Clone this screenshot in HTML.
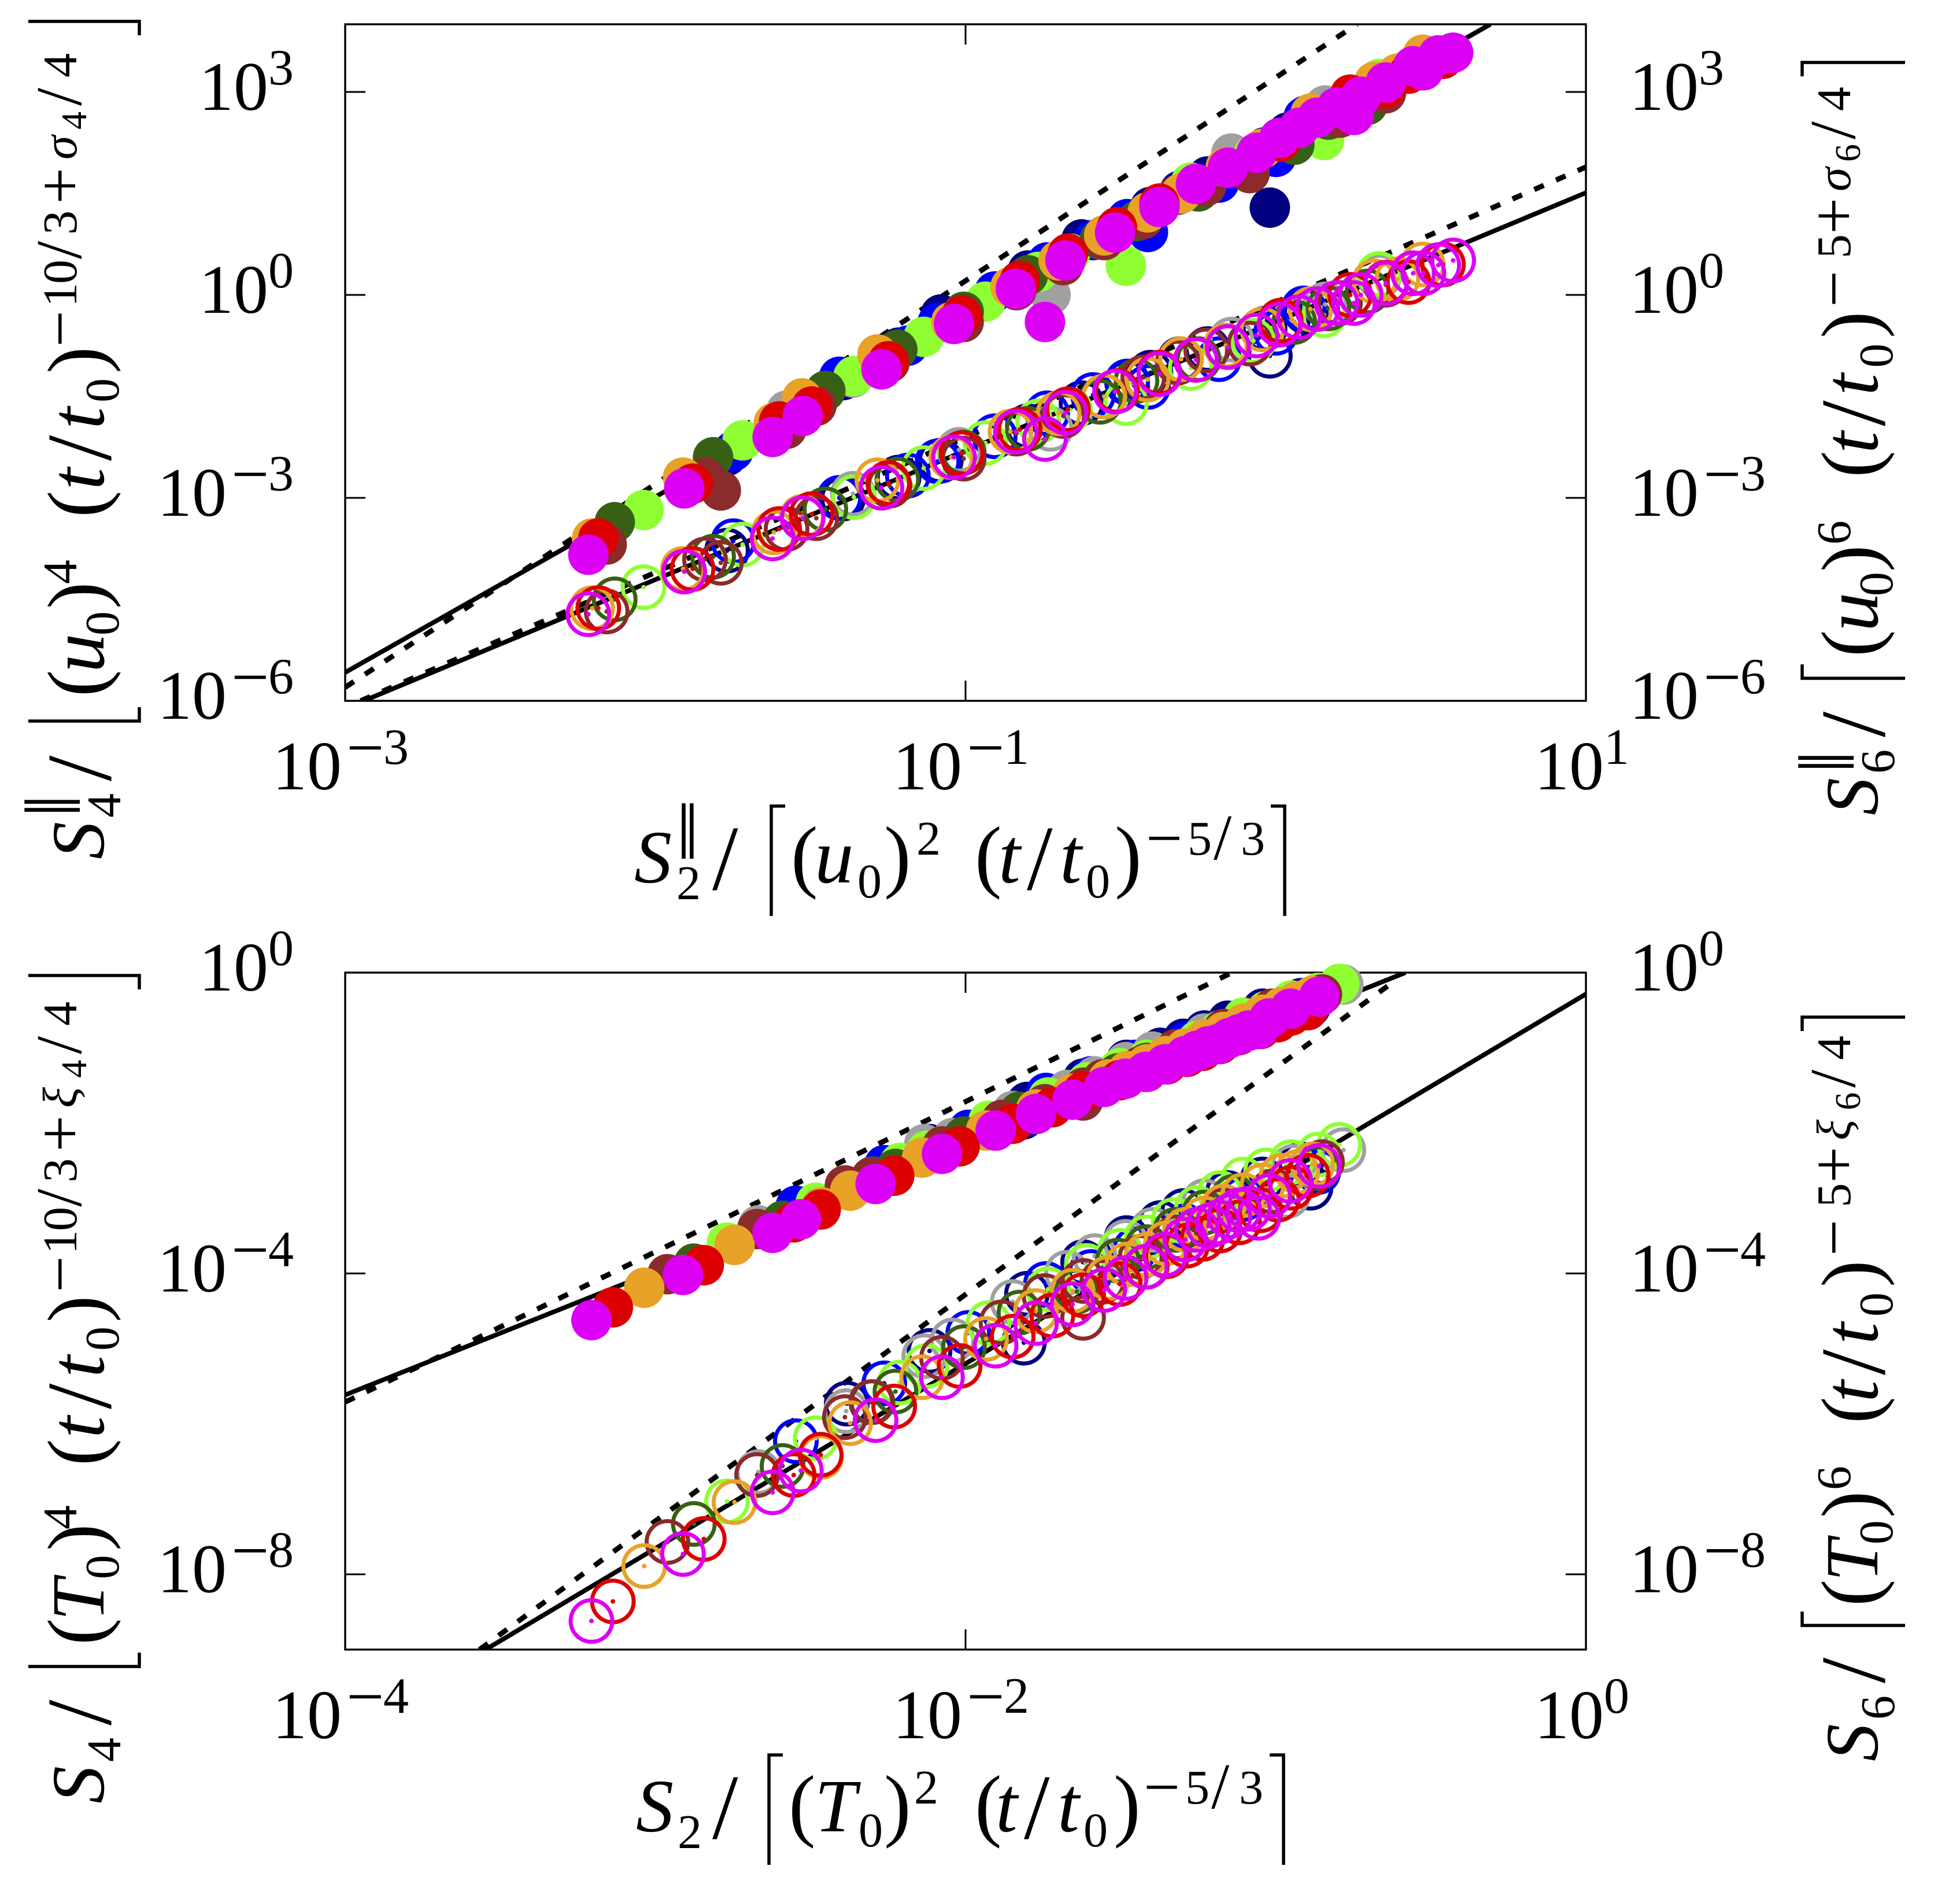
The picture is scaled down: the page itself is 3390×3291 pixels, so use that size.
<!DOCTYPE html>
<html lang="en">
<head>
<meta charset="utf-8">
<title>Structure function scaling plots</title>
<style>
html,body{margin:0;padding:0;background:#fff;}
svg{display:block;}
text{font-family:"Liberation Serif","DejaVu Serif",serif;fill:#000;}
.it{font-style:italic;}
.p{font-size:140px;}
.t{font-size:136px;font-style:italic;}
.v{font-size:135px;font-style:italic;}
.sl{font-size:160px;}
.ss{font-size:112px;}
.pp{font-size:138px;}
</style>
</head>
<body>
<svg id="chart" xmlns="http://www.w3.org/2000/svg" width="3390" height="3291" viewBox="0 0 3390 3291">
<rect x="0" y="0" width="3390" height="3291" fill="#fff"/>
<defs>
<clipPath id="clipTop"><rect x="597" y="42" width="2146" height="1170"/></clipPath>
<clipPath id="clipBottom"><rect x="597" y="1682" width="2146" height="1171"/></clipPath>
</defs>
<g id="layerTop"></g>
<g id="layerBottom"></g>

<g fill="none" stroke="#000" stroke-width="5.5">
<path d="M1358,1394H1334V1584"/>
<path d="M2198,1394H2222V1584"/>
<path d="M1354,3035H1330V3225"/>
<path d="M2196,3035H2220V3225"/>
<path d="M49,1247H241V1223"/>
<path d="M49,37H241V61"/>
<path d="M49,2882H241V2858"/>
<path d="M49,1687H241V1711"/>
<path d="M3295,1173H3117V1149"/>
<path d="M3295,108H3117V132"/>
<path d="M3295,2811H3117V2787"/>
<path d="M3295,1759H3117V1783"/>
</g>

<text font-size="118">
<tspan class="it" font-size="130" x="1097" y="1526">S</tspan><tspan class="pp" x="1170" y="1485">‖</tspan><tspan font-size="84" x="1170" y="1555">2</tspan><tspan class="sl" x="1232" y="1538">/</tspan>
<tspan class="p" x="1368" y="1526">(</tspan><tspan class="v" x="1409" y="1526">u</tspan><tspan font-size="84" x="1483" y="1552">0</tspan><tspan class="p" x="1529" y="1526">)</tspan><tspan font-size="84" x="1585" y="1478">2</tspan>
<tspan class="p" x="1686" y="1526">(</tspan><tspan class="t" x="1727" y="1526">t</tspan><tspan class="sl" x="1776" y="1538">/</tspan><tspan class="t" x="1833" y="1526">t</tspan><tspan font-size="84" x="1878" y="1552">0</tspan><tspan class="p" x="1928" y="1526">)</tspan>
<tspan font-size="112" x="1982" y="1487">−</tspan><tspan font-size="84" x="2054" y="1478">5</tspan><tspan class="ss" x="2099" y="1486">/</tspan><tspan font-size="84" x="2146" y="1478">3</tspan>
</text>

<text font-size="118">
<tspan class="it" font-size="130" x="1100" y="3167">S</tspan><tspan font-size="84" x="1172" y="3196">2</tspan><tspan class="sl" x="1232" y="3179">/</tspan>
<tspan class="p" x="1364" y="3167">(</tspan><tspan class="it" font-size="130" x="1409" y="3167">T</tspan><tspan font-size="84" x="1485" y="3193">0</tspan><tspan class="p" x="1529" y="3167">)</tspan><tspan font-size="84" x="1581" y="3119">2</tspan>
<tspan class="p" x="1686" y="3167">(</tspan><tspan class="t" x="1722" y="3167">t</tspan><tspan class="sl" x="1771" y="3179">/</tspan><tspan class="t" x="1829" y="3167">t</tspan><tspan font-size="84" x="1874" y="3193">0</tspan><tspan class="p" x="1926" y="3167">)</tspan>
<tspan font-size="112" x="1978" y="3128">−</tspan><tspan font-size="84" x="2050" y="3119">5</tspan><tspan class="ss" x="2095" y="3127">/</tspan><tspan font-size="84" x="2143" y="3119">3</tspan>
</text>

<text font-size="118" transform="translate(179,1486) rotate(-90)">
<tspan class="it" font-size="130" x="0" y="0">S</tspan><tspan class="pp" x="73" y="-41">‖</tspan><tspan font-size="84" x="72" y="29">4</tspan><tspan class="sl" x="135" y="12">/</tspan>
<tspan class="p" x="281" y="0">(</tspan><tspan class="v" x="323" y="0">u</tspan><tspan font-size="84" x="387" y="26">0</tspan><tspan class="p" x="433" y="0">)</tspan><tspan font-size="84" x="476" y="-47">4</tspan>
<tspan class="p" x="591" y="0">(</tspan><tspan class="t" x="639" y="0">t</tspan><tspan class="sl" x="689" y="12">/</tspan><tspan class="t" x="744" y="0">t</tspan><tspan font-size="84" x="790" y="26">0</tspan><tspan class="p" x="840" y="0">)</tspan>
<tspan font-size="112" x="886" y="-38">−</tspan><tspan font-size="84" x="955" y="-47">1</tspan><tspan font-size="84" x="995" y="-47">0</tspan><tspan class="ss" x="1038" y="-39">/</tspan><tspan font-size="84" x="1080" y="-47">3</tspan><tspan font-size="112" x="1133" y="-38">+</tspan><tspan class="it" font-size="84" x="1210" y="-47">σ</tspan><tspan font-size="62" x="1262" y="-30">4</tspan><tspan class="ss" x="1303" y="-39">/</tspan><tspan font-size="84" x="1352" y="-47">4</tspan>
</text>

<text font-size="118" transform="translate(3247,1410) rotate(-90)">
<tspan class="it" font-size="130" x="0" y="0">S</tspan><tspan class="pp" x="73" y="-41">‖</tspan><tspan font-size="84" x="72" y="29">6</tspan><tspan class="sl" x="135" y="12">/</tspan>
<tspan class="p" x="274" y="0">(</tspan><tspan class="v" x="318" y="0">u</tspan><tspan font-size="84" x="379" y="26">0</tspan><tspan class="p" x="421" y="0">)</tspan><tspan font-size="84" x="468" y="-47">6</tspan>
<tspan class="p" x="584" y="0">(</tspan><tspan class="t" x="626" y="0">t</tspan><tspan class="sl" x="673" y="12">/</tspan><tspan class="t" x="726" y="0">t</tspan><tspan font-size="84" x="774" y="26">0</tspan><tspan class="p" x="825" y="0">)</tspan>
<tspan font-size="112" x="879" y="-38">−</tspan><tspan font-size="84" x="963" y="-47">5</tspan><tspan font-size="112" x="1005" y="-38">+</tspan><tspan class="it" font-size="84" x="1079" y="-47">σ</tspan><tspan font-size="62" x="1130" y="-30">6</tspan><tspan class="ss" x="1169" y="-39">/</tspan><tspan font-size="84" x="1218" y="-47">4</tspan>
</text>

<text font-size="118" transform="translate(179,3119) rotate(-90)">
<tspan class="it" font-size="130" x="0" y="0">S</tspan><tspan font-size="84" x="72" y="29">4</tspan><tspan class="sl" x="135" y="12">/</tspan>
<tspan class="p" x="274" y="0">(</tspan><tspan class="it" font-size="130" x="316" y="0">T</tspan><tspan font-size="84" x="388" y="26">0</tspan><tspan class="p" x="437" y="0">)</tspan><tspan font-size="84" x="474" y="-47">4</tspan>
<tspan class="p" x="584" y="0">(</tspan><tspan class="t" x="632" y="0">t</tspan><tspan class="sl" x="682" y="12">/</tspan><tspan class="t" x="737" y="0">t</tspan><tspan font-size="84" x="783" y="26">0</tspan><tspan class="p" x="832" y="0">)</tspan>
<tspan font-size="112" x="884" y="-38">−</tspan><tspan font-size="84" x="950" y="-47">1</tspan><tspan font-size="84" x="990" y="-47">0</tspan><tspan class="ss" x="1032" y="-39">/</tspan><tspan font-size="84" x="1074" y="-47">3</tspan><tspan font-size="112" x="1127" y="-38">+</tspan><tspan class="it" font-size="84" x="1203" y="-47">ξ</tspan><tspan font-size="62" x="1255" y="-30">4</tspan><tspan class="ss" x="1296" y="-39">/</tspan><tspan font-size="84" x="1345" y="-47">4</tspan>
</text>

<text font-size="118" transform="translate(3247,3046) rotate(-90)">
<tspan class="it" font-size="130" x="0" y="0">S</tspan><tspan font-size="84" x="72" y="29">6</tspan><tspan class="sl" x="135" y="12">/</tspan>
<tspan class="p" x="268" y="0">(</tspan><tspan class="it" font-size="130" x="311" y="0">T</tspan><tspan font-size="84" x="375" y="26">0</tspan><tspan class="p" x="421" y="0">)</tspan><tspan font-size="84" x="469" y="-47">6</tspan>
<tspan class="p" x="584" y="0">(</tspan><tspan class="t" x="621" y="0">t</tspan><tspan class="sl" x="668" y="12">/</tspan><tspan class="t" x="721" y="0">t</tspan><tspan font-size="84" x="769" y="26">0</tspan><tspan class="p" x="820" y="0">)</tspan>
<tspan font-size="112" x="874" y="-38">−</tspan><tspan font-size="84" x="958" y="-47">5</tspan><tspan font-size="112" x="1000" y="-38">+</tspan><tspan class="it" font-size="84" x="1074" y="-47">ξ</tspan><tspan font-size="62" x="1126" y="-30">6</tspan><tspan class="ss" x="1165" y="-39">/</tspan><tspan font-size="84" x="1213" y="-47">4</tspan>
</text>
</svg>

<script>
// ---- values are log10 of the plotted quantities ----
const seriesNames = ['navy','blue','gray','lime','dark-green','brown','orange','red','magenta'];
const seriesColors = ['#000080','#0000ff','#a0a0a0','#8fff33','#386014','#8b2b2b','#e8a228','#dc0000','#dc00f5'];

// Top panel
const topNavyX = [-1.769,-1.395,-1.216,-1.080,-0.799,-0.626,-0.479,-0.404,-0.309,-0.220,-0.036,-0.019,0.038,0.097];
const topNavyY4 = [-2.38,-1.26,-0.78,-0.29,0.36,0.82,1.11,1.30,1.54,1.75,2.18,1.29,2.40,2.65];
const topNavyY6 = [-3.78,-3.01,-2.70,-2.45,-1.94,-1.60,-1.30,-1.15,-0.95,-0.80,-0.50,-0.90,-0.40,-0.25];

const topBlueX = [-1.749,-1.407,-1.186,-1.090,-0.906,-0.737,-0.589,-0.479,-0.412,-0.183,0.001,0.090];
const topBlueY4 = [-2.31,-1.21,-0.75,-0.41,0.05,0.48,0.81,1.12,0.93,1.66,2.04,2.63];
const topBlueY6 = [-3.64,-3.00,-2.67,-2.46,-2.09,-1.75,-1.48,-1.28,-1.36,-0.95,-0.56,-0.20];

const topGrayX = [-1.577,-1.363,-1.021,-0.726,-0.143,0.159,0.333];
const topGrayY4 = [-1.71,-1.22,-0.36,0.0,2.09,2.80,3.19];
const topGrayY6 = [-3.46,-2.94,-2.29,-1.98,-0.66,-0.14,0.27];

const topLimeX = [-2.038,-1.719,-1.360,-1.135,-0.936,-0.766,-0.663,-0.483,-0.274,-0.072,0.156,0.333];
const topLimeY4 = [-3.18,-2.15,-1.20,-0.62,-0.10,0.34,0.61,0.43,1.66,2.07,2.29,3.19];
const topLimeY6 = [-4.32,-3.69,-2.99,-2.56,-2.19,-1.87,-1.70,-1.60,-1.08,-0.68,-0.30,0.31];

const topGreenX = [-2.131,-1.814,-1.452,-1.220,-1.006,-0.799,-0.567,-0.449,-0.249,0.060,0.170,0.296];
const topGreenY4 = [-3.36,-2.40,-1.42,-0.81,-0.25,0.29,0.82,1.09,1.53,2.22,2.59,2.81];
const topGreenY6 = [-4.50,-3.87,-3.17,-2.73,-2.33,-1.98,-1.58,-1.27,-0.95,-0.40,-0.20,0.05];

const topBrownX = [-2.157,-1.840,-1.789,-1.577,-1.481,-1.245,-1.006,-0.836,-0.685,-0.553,-0.427,-0.316,-0.224,-0.084,0.207,0.355];
const topBrownY4 = [-3.69,-2.70,-2.89,-1.98,-1.64,-1.00,-0.40,0.07,0.44,0.81,1.12,1.48,1.61,1.80,2.62,2.98];
const topBrownY6 = [-4.68,-3.91,-3.96,-3.46,-3.30,-2.82,-2.42,-2.05,-1.79,-1.50,-1.22,-1.00,-0.82,-0.72,-0.12,0.15];

const topOrangeX = [-2.204,-1.911,-1.618,-1.527,-1.284,-1.046,-0.855,-0.700,-0.553,-0.413,-0.305,-0.161,-0.043,0.112,0.318,0.392,0.474];
const topOrangeY4 = [-3.60,-2.70,-1.89,-1.53,-0.88,-0.40,0.12,0.51,0.88,1.22,1.50,1.89,2.16,2.68,3.15,3.27,3.55];
const topOrangeY6 = [-4.63,-4.05,-3.51,-3.28,-2.74,-2.40,-2.02,-1.75,-1.50,-1.25,-0.95,-0.75,-0.51,-0.21,0.20,0.23,0.45];

const topRedX = [-2.184,-1.880,-1.601,-1.496,-1.249,-1.013,-0.825,-0.670,-0.512,-0.375,-0.257,-0.154,0.016,0.240,0.355,0.428,0.539];
const topRedY4 = [-3.60,-2.79,-1.87,-1.65,-0.98,-0.30,0.21,0.61,1.00,1.35,1.64,1.88,2.27,2.96,3.06,3.27,3.49];
const topRedY6 = [-4.63,-4.05,-3.46,-3.24,-2.78,-2.34,-1.99,-1.69,-1.42,-1.15,-0.96,-0.77,-0.38,0.00,0.18,0.19,0.45];

const topMagentaX = [-2.216,-1.907,-1.622,-1.525,-1.271,-1.037,-0.838,-0.744,-0.678,-0.518,-0.375,-0.257,-0.154,-0.062,0.012,0.075,0.134,0.196,0.252,0.274,0.355,0.443,0.476,0.524,0.572];
const topMagentaY4 = [-3.84,-2.86,-2.10,-1.79,-1.10,-0.43,0.09,-0.40,0.51,0.92,1.30,1.64,1.88,2.10,2.32,2.47,2.62,2.77,2.66,2.93,3.14,3.38,3.32,3.54,3.58];
const topMagentaY6 = [-4.72,-4.09,-3.60,-3.30,-2.85,-2.40,-2.02,-2.13,-1.74,-1.43,-1.17,-0.96,-0.77,-0.60,-0.44,-0.33,-0.21,-0.12,-0.12,0.0,0.17,0.32,0.32,0.44,0.51];

// Bottom panel
const botNavyX = [-2.383,-2.116,-1.812,-1.802,-1.621,-1.481,-1.372,-1.298,-1.230,-1.155,-1.043,-0.919,-0.888];
const botNavyY4 = [-2.84,-2.28,-1.95,-1.72,-1.41,-1.16,-1.00,-0.88,-0.77,-0.64,-0.48,-0.34,-0.46];
const botNavyY6 = [-5.73,-5.03,-4.92,-4.27,-3.85,-3.53,-3.33,-3.17,-3.04,-2.93,-2.75,-2.55,-2.86];

const botBlueX = [-2.547,-2.262,-1.991,-1.741,-1.596,-1.453,-1.292,-1.105,-0.863];
const botBlueY4 = [-3.10,-2.56,-2.09,-1.60,-1.38,-1.16,-0.92,-0.60,-0.31];
const botBlueY6 = [-6.23,-5.46,-4.79,-4.14,-3.98,-3.68,-3.37,-3.01,-2.65];

const botGrayX = [-2.668,-2.385,-2.133,-2.042,-1.848,-1.673,-1.584,-1.484,-1.397,-1.230,-0.962,-0.944,-0.782];
const botGrayY4 = [-3.36,-2.87,-2.28,-2.20,-1.84,-1.56,-1.38,-1.19,-1.05,-0.81,-0.45,-0.39,-0.16];
const botGrayY6 = [-6.64,-5.83,-5.10,-4.89,-4.38,-3.99,-3.77,-3.58,-3.42,-3.04,-2.97,-2.58,-2.36];

const botLimeX = [-2.769,-2.483,-2.212,-2.126,-1.926,-1.734,-1.609,-1.503,-1.416,-1.329,-1.254,-1.180,-1.105,-1.031,-0.950,-0.863,-0.795];
const botLimeY4 = [-3.59,-3.06,-2.53,-2.37,-1.97,-1.66,-1.46,-1.27,-1.16,-1.04,-0.91,-0.77,-0.60,-0.51,-0.37,-0.27,-0.15];
const botLimeY6 = [-7.03,-6.19,-5.45,-5.23,-4.66,-4.21,-3.90,-3.70,-3.52,-3.29,-3.13,-2.93,-2.75,-2.63,-2.52,-2.42,-2.29];

const botGreenX = [-2.876,-2.590,-2.300,-2.226,-2.005,-1.826,-1.641,-1.509,-1.416,-1.323,-1.230,-1.136,-1.043,-0.863];
const botGreenY4 = [-3.87,-3.30,-2.71,-2.61,-2.18,-1.85,-1.61,-1.34,-1.20,-1.06,-0.91,-0.75,-0.60,-0.33];
const botGreenY6 = [-7.33,-6.56,-5.71,-5.57,-4.98,-4.52,-4.24,-3.83,-3.65,-3.42,-3.19,-2.98,-2.83,-2.60];

const botBrownX = [-2.961,-2.672,-2.389,-2.304,-2.076,-1.884,-1.745,-1.620,-1.621,-1.559,-1.435,-1.323,-1.168,-1.012,-0.851];
const botBrownY4 = [-4.01,-3.41,-2.83,-2.72,-2.31,-1.96,-1.75,-1.53,-1.70,-1.42,-1.24,-1.02,-0.75,-0.48,-0.29];
const botBrownY6 = [-7.57,-6.68,-5.91,-5.71,-5.12,-4.65,-4.30,-4.10,-4.59,-4.11,-3.78,-3.52,-3.16,-2.91,-2.52];

const botOrangeX = [-3.036,-2.745,-2.466,-2.372,-2.140,-1.934,-1.773,-1.655,-1.540,-1.478,-1.416,-1.354,-1.292,-1.230,-1.168,-1.105,-1.043,-0.981,-0.931,-0.882];
const botOrangeY4 = [-4.19,-3.62,-3.12,-2.90,-2.46,-2.10,-1.82,-1.61,-1.42,-1.31,-1.22,-1.11,-1.01,-0.89,-0.79,-0.68,-0.56,-0.46,-0.38,-0.31];
const botOrangeY6 = [-7.89,-7.04,-6.44,-5.99,-5.38,-4.87,-4.50,-4.23,-4.06,-3.88,-3.75,-3.60,-3.42,-3.27,-3.11,-2.96,-2.83,-2.70,-2.65,-2.55];

const botRedX = [-3.137,-2.844,-2.554,-2.467,-2.230,-2.019,-1.848,-1.720,-1.621,-1.503,-1.416,-1.351,-1.286,-1.236,-1.180,-1.118,-1.049,-0.993,-0.950,-0.897];
const botRedY4 = [-4.45,-3.89,-3.32,-3.15,-2.70,-2.31,-2.01,-1.79,-1.58,-1.43,-1.32,-1.22,-1.12,-1.04,-0.95,-0.83,-0.75,-0.66,-0.57,-0.50];
const botRedY6 = [-8.36,-7.53,-6.68,-6.41,-5.77,-5.23,-4.84,-4.56,-4.29,-4.14,-3.91,-3.77,-3.63,-3.54,-3.43,-3.32,-3.16,-3.02,-2.86,-2.70];

const botMagentaX = [-3.206,-2.911,-2.622,-2.531,-2.290,-2.076,-1.903,-1.773,-1.655,-1.553,-1.484,-1.419,-1.357,-1.292,-1.254,-1.217,-1.186,-1.149,-1.118,-1.087,-1.056,-1.021,-0.953,-0.860];
const botMagentaY4 = [-4.62,-4.02,-3.46,-3.28,-2.81,-2.41,-2.10,-1.88,-1.69,-1.52,-1.41,-1.32,-1.22,-1.11,-1.04,-0.98,-0.95,-0.87,-0.82,-0.77,-0.75,-0.61,-0.48,-0.32];
const botMagentaY6 = [-8.62,-7.73,-6.91,-6.62,-5.95,-5.38,-4.96,-4.66,-4.41,-4.22,-4.06,-3.91,-3.75,-3.55,-3.42,-3.37,-3.32,-3.24,-3.16,-3.14,-3.26,-2.97,-2.77,-2.57];

// Reference power-law lines (two end points each, log10)
const topSolidUpperX = [-3,0.692];
const topSolidUpperY = [-5.58,4];
const topDashedUpperX = [-3,0.262];
const topDashedUpperY = [-5.80,4];
const topSolidLowerX = [-2.94,1];
const topSolidLowerY = [-6,1.51];
const topDashedLowerX = [-2.95,1];
const topDashedLowerY = [-6,1.89];
const botSolidUpperX = [-4,-0.582];
const botSolidUpperY = [-5.615,0];
const botDashedUpperX = [-4,-1.141];
const botDashedUpperY = [-5.71,0];
const botSolidLowerX = [-3.547,0];
const botSolidLowerY = [-9,-0.285];
const botDashedLowerX = [-3.567,-0.608];
const botDashedLowerY = [-9,-0.085];

// Tick exponents
const topXTicks = [-3,-1,1];
const topYTicks = [3,0,-3,-6];
const botXTicks = [-4,-2,0];
const botYTicks = [0,-4,-8];

const SVGNS = 'http://www.w3.org/2000/svg';
function mk(tag, attrs, parent) {
  const el = document.createElementNS(SVGNS, tag);
  for (const k in attrs) el.setAttribute(k, attrs[k]);
  parent.appendChild(el);
  return el;
}

const panels = [
  {
    key: 'top', layer: document.getElementById('layerTop'), clip: 'url(#clipTop)',
    left: 597, right: 2743, top: 42, bottom: 1212,
    xMin: -3, xScale: 536.5, yMin: -6, yScale: 117,
    xTicks: topXTicks, yTicks: topYTicks,
    xLabelBase: 1365,
    lines: [
      [topSolidUpperX, topSolidUpperY, false, 'solid-upper'],
      [topDashedUpperX, topDashedUpperY, true, 'dashed-upper'],
      [topSolidLowerX, topSolidLowerY, false, 'solid-lower'],
      [topDashedLowerX, topDashedLowerY, true, 'dashed-lower']
    ],
    xs: [topNavyX, topBlueX, topGrayX, topLimeX, topGreenX, topBrownX, topOrangeX, topRedX, topMagentaX],
    y4s: [topNavyY4, topBlueY4, topGrayY4, topLimeY4, topGreenY4, topBrownY4, topOrangeY4, topRedY4, topMagentaY4],
    y6s: [topNavyY6, topBlueY6, topGrayY6, topLimeY6, topGreenY6, topBrownY6, topOrangeY6, topRedY6, topMagentaY6]
  },
  {
    key: 'bottom', layer: document.getElementById('layerBottom'), clip: 'url(#clipBottom)',
    left: 597, right: 2743, top: 1682, bottom: 2852.7,
    xMin: -4, xScale: 536.5, yMin: -9, yScale: 130.08,
    xTicks: botXTicks, yTicks: botYTicks,
    xLabelBase: 3006,
    lines: [
      [botSolidUpperX, botSolidUpperY, false, 'solid-upper'],
      [botDashedUpperX, botDashedUpperY, true, 'dashed-upper'],
      [botSolidLowerX, botSolidLowerY, false, 'solid-lower'],
      [botDashedLowerX, botDashedLowerY, true, 'dashed-lower']
    ],
    xs: [botNavyX, botBlueX, botGrayX, botLimeX, botGreenX, botBrownX, botOrangeX, botRedX, botMagentaX],
    y4s: [botNavyY4, botBlueY4, botGrayY4, botLimeY4, botGreenY4, botBrownY4, botOrangeY4, botRedY4, botMagentaY4],
    y6s: [botNavyY6, botBlueY6, botGrayY6, botLimeY6, botGreenY6, botBrownY6, botOrangeY6, botRedY6, botMagentaY6]
  }
];

function tickLabel(parent, startX, baseY, exp, name) {
  const t = mk('text', {'font-size': 120, x: startX, y: baseY}, parent);
  
  
  const base = mk('tspan', {x: startX, y: baseY}, t);
  base.textContent = '10';
  if (exp < 0) {
    const minus = mk('tspan', {x: startX + 128, y: baseY - 33, 'font-size': 116}, t);
    minus.textContent = '\u2212';
    const dig = mk('tspan', {x: startX + 192, y: baseY - 44, 'font-size': 88}, t);
    dig.textContent = String(-exp);
  } else {
    const dig = mk('tspan', {x: startX + 120, y: baseY - 44, 'font-size': 88}, t);
    dig.textContent = String(exp);
  }
}

panels.forEach(function (p) {
  const xPos = function (v) { return p.left + (v - p.xMin) * p.xScale; };
  const yPos = function (v) { return p.bottom - (v - p.yMin) * p.yScale; };

  // reference lines
  const lineGroup = mk('g', {'clip-path': p.clip}, p.layer);
  
  
  p.lines.forEach(function (l) {
    const attrs = {
      x1: xPos(l[0][0]), y1: yPos(l[1][0]), x2: xPos(l[0][1]), y2: yPos(l[1][1]),
      stroke: '#000', 'stroke-width': l[2] ? 9 : 8
    };
    if (l[2]) attrs['stroke-dasharray'] = '18 23';
    const ln = mk('line', attrs, lineGroup);
    
    
  });

  // frame
  const frame = mk('rect', {x: p.left, y: p.top, width: p.right - p.left, height: p.bottom - p.top, fill: 'none', stroke: '#000', 'stroke-width': 3.4}, p.layer);
  
  

  // ticks and labels
  p.xTicks.forEach(function (e) {
    const x = xPos(e);
    const tickB = mk('line', {x1: x, x2: x, y1: p.bottom, y2: p.bottom - 35, stroke: '#000', 'stroke-width': 3}, p.layer);
    
    
    const tickT = mk('line', {x1: x, x2: x, y1: p.top, y2: p.top + 35, stroke: '#000', 'stroke-width': 3}, p.layer);
    
    
    tickLabel(p.layer, x - (e < 0 ? 126 : 89), p.xLabelBase, e, p.key + '-x-tick-label');
  });
  p.yTicks.forEach(function (e) {
    const y = yPos(e);
    const tickL = mk('line', {x1: p.left, x2: p.left + 35, y1: y, y2: y, stroke: '#000', 'stroke-width': 3}, p.layer);
    
    
    const tickR = mk('line', {x1: p.right, x2: p.right - 35, y1: y, y2: y, stroke: '#000', 'stroke-width': 3}, p.layer);
    
    
    tickLabel(p.layer, e < 0 ? 272 : 344, y + 31, e, p.key + '-y-tick-label-left');
    tickLabel(p.layer, 2818, y + 31, e, p.key + '-y-tick-label-right');
  });

  // markers
  seriesNames.forEach(function (name, s) {
    const g = mk('g', {}, p.layer);
    
    
    const color = seriesColors[s];
    p.xs[s].forEach(function (xv, i) {
      const dot = mk('circle', {cx: xPos(xv), cy: yPos(p.y4s[s][i]), r: 35, fill: color}, g);
      
      
    });
    p.xs[s].forEach(function (xv, i) {
      const ring = mk('circle', {cx: xPos(xv), cy: yPos(p.y6s[s][i]), r: 36, fill: 'none', stroke: color, 'stroke-width': 7}, g);
      
      
      const pip = mk('circle', {cx: xPos(xv), cy: yPos(p.y6s[s][i]), r: 4, fill: color}, g);
      
      
    });
  });
});
</script>
</body>
</html>
